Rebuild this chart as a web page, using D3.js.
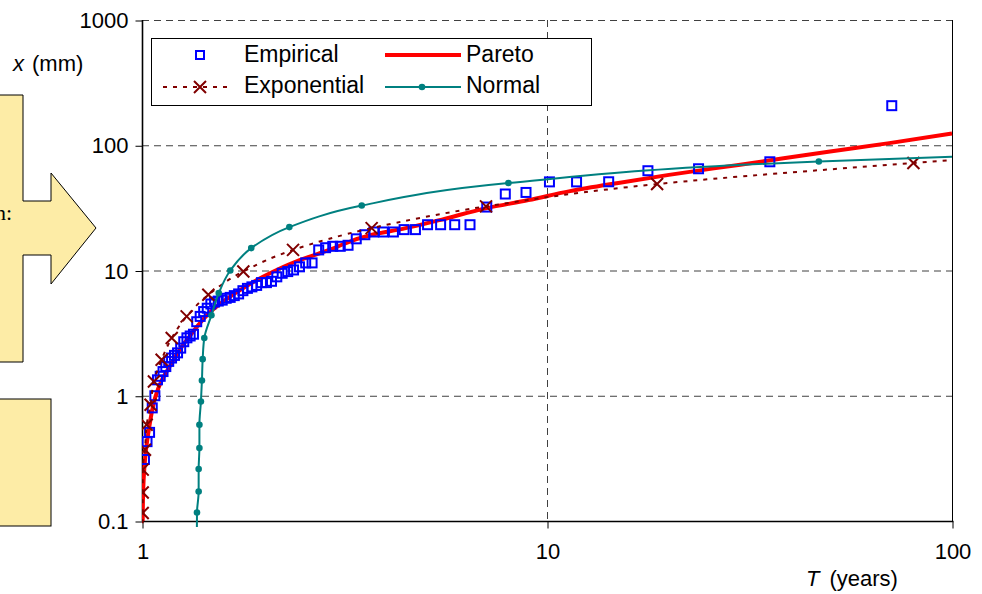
<!DOCTYPE html>
<html>
<head>
<meta charset="utf-8">
<script src="https://cdn.jsdelivr.net/npm/d3@7"></script>
<style>
  body { margin: 0; background: #fff; }
  svg { display: block; font-family: "Liberation Sans", Arial, sans-serif; }
</style>
</head>
<body>
<div class="chart"></div>
<script>
var chartOptions = {
  width: 982,
  height: 594,
  left: 142,
  right: 952,
  top: 20,
  bottom: 521
};

// tick labels
var xTicks = [1, 10, 100];
var yTicks = [0.1, 1, 10, 100, 1000];

// empirical: return period T (years) and depth x (mm), by rank
var empT = [71.0, 35.5, 23.67, 17.75, 14.2, 11.83, 10.14, 8.875, 7.889, 7.1,
  6.455, 5.917, 5.462, 5.071, 4.733, 4.438, 4.176, 3.944, 3.737, 3.55,
  3.381, 3.227, 3.087, 2.958, 2.84, 2.731, 2.63, 2.536, 2.448, 2.367,
  2.29, 2.219, 2.152, 2.088, 2.029, 1.972, 1.919, 1.868, 1.821, 1.775,
  1.732, 1.69, 1.651, 1.614, 1.578, 1.543, 1.511, 1.479, 1.449, 1.42,
  1.392, 1.365, 1.34, 1.315, 1.291, 1.268, 1.246, 1.224, 1.203, 1.183,
  1.164, 1.145, 1.127, 1.109, 1.092, 1.076, 1.06, 1.044, 1.029, 1.014];
var empX = [207, 73.8, 64.9, 62.6, 51.1, 51, 51, 42, 40.8, 32.1,
  23.2, 23.2, 23.2, 23.2, 21.2, 21.2, 20.3, 20.3, 20.3, 19.3,
  17.9, 15.9, 15.6, 15.6, 15.2, 14.6, 11.5, 11.5, 10.7, 10.1,
  9.8, 9.5, 8.9, 8.2, 8.0, 8.0, 7.6, 7.4, 7.2, 6.9,
  6.5, 6.3, 6.1, 6.0, 5.8, 5.7, 5.6, 5.4, 5.0, 4.7,
  4.3, 3.9, 3.1, 3.0, 2.9, 2.7, 2.4, 2.2, 2.1, 2.0,
  1.88, 1.71, 1.56, 1.43, 1.34, 1.0, 0.8, 0.51, 0.43, 0.31];

// pareto curve
var parT = [1.004, 1.007, 1.013, 1.023, 1.04, 1.06, 1.08, 1.12, 1.17, 1.24,
  1.31, 1.5, 1.7, 2.0, 2.4, 2.9, 3.7, 4.4, 5.5, 7.1,
  9.0, 11.4, 15, 20, 30, 50, 70, 100];
var parX = [0.1, 0.18, 0.26, 0.37, 0.54, 0.77, 0.99, 1.34, 1.71, 2.33,
  2.98, 4.9, 6.6, 9.0, 11.8, 14.6, 19.3, 21.5, 25.5, 31.5,
  36.5, 43, 50, 58, 70, 89, 104, 124];

// exponential (markers, plus one line point past each end)
var expT = [1.004, 1.004, 1.004, 1.017, 1.027, 1.05, 1.07, 1.118, 1.184,
  1.289, 1.458, 1.779, 2.36, 3.69, 7.07, 18.7, 80.3];
var expX = [0.116, 0.169, 0.257, 0.371, 0.587, 0.848, 1.30, 1.94, 2.89,
  4.30, 6.40, 9.83, 14.6, 21.8, 32.5, 49.0, 72.1];
var expEndT = [1.0038, 100];
var expEndX = [0.08, 76];

// normal (markers, plus one line point past each end)
var norT = [1.367, 1.380, 1.380, 1.386, 1.386, 1.398, 1.406, 1.412, 1.425,
  1.484, 1.547, 1.652, 1.861, 2.311, 3.488, 8.03, 46.9];
var norX = [0.117, 0.172, 0.26, 0.382, 0.587, 0.90, 1.325, 1.96, 2.89,
  4.39, 6.6, 10.0, 15.1, 22.2, 33.0, 49.9, 74.2];
var norEndT = [1.366, 100];
var norEndX = [0.08, 81];

var legendNames = ["Empirical", "Pareto", "Exponential", "Normal"];

var zip = function(ts, xs) {
  return ts.map(function(t, i) { return { t: t, x: xs[i] }; });
};

var svg = d3.select('.chart').append('svg')
  .attr('width', chartOptions.width)
  .attr('height', chartOptions.height);

var x = d3.scaleLog().domain([1, 100]).range([chartOptions.left, chartOptions.right]);
var y = d3.scaleLog().domain([0.1, 1000]).range([chartOptions.bottom, chartOptions.top]);

// shapes cut by the left edge
var yellow = '#fdeca6';
svg.append('polygon')
  .attr('points', [[-2, 95], [23, 95], [23, 201], [51, 201], [51, 173], [96, 228],
    [51, 284], [51, 255], [23, 255], [23, 362], [-2, 362]].join(' '))
  .attr('fill', yellow)
  .attr('stroke', '#000')
  .attr('stroke-width', 1);
svg.append('text')
  .attr('x', 12)
  .attr('y', 220)
  .attr('text-anchor', 'end')
  .style('font-family', '"Liberation Serif", serif')
  .style('font-size', '22px')
  .text('n:');
svg.append('rect')
  .attr('x', -2).attr('y', 399)
  .attr('width', 53).attr('height', 127)
  .attr('fill', yellow)
  .attr('stroke', '#000')
  .attr('stroke-width', 1);

// grid
var grid = svg.append('g')
  .attr('stroke', '#404040')
  .attr('stroke-width', 1)
  .attr('stroke-dasharray', '7,5');
grid.selectAll('line.h')
  .data([1, 10, 100, 1000])
  .enter().append('line')
  .attr('class', 'h')
  .attr('x1', chartOptions.left).attr('x2', chartOptions.right)
  .attr('y1', function(d) { return y(d) + 0.5; })
  .attr('y2', function(d) { return y(d) + 0.5; });
grid.append('line')
  .attr('x1', x(10) + 0.5).attr('x2', x(10) + 0.5)
  .attr('y1', chartOptions.top).attr('y2', chartOptions.bottom);

svg.append('line')
  .attr('x1', chartOptions.right + 0.5).attr('x2', chartOptions.right + 0.5)
  .attr('y1', chartOptions.top).attr('y2', chartOptions.bottom)
  .attr('stroke', '#000');

// axes
var fmt = function(d) { return d < 1 ? d.toFixed(1) : String(d); };

var yAxis = svg.append('g')
  .attr('transform', 'translate(' + (chartOptions.left + 0.5) + ',0.5)')
  .call(d3.axisLeft(y).tickValues(yTicks).tickFormat(fmt).tickSize(7).tickPadding(7));
var xAxis = svg.append('g')
  .attr('transform', 'translate(0.5,' + (chartOptions.bottom + 0.5) + ')')
  .call(d3.axisBottom(x).tickValues(xTicks).tickFormat(fmt).tickSize(7).tickPadding(15));

[yAxis, xAxis].forEach(function(a) {
  a.select('.domain').attr('stroke', '#000').attr('stroke-width', 1.6);
  a.selectAll('.tick line').attr('stroke', '#000');
  a.selectAll('.tick text')
    .attr('fill', '#000')
    .style('font-size', '22px')
    .style('font-family', '"Liberation Sans", Arial, sans-serif');
});
yAxis.select('.domain').attr('d', 'M0,' + (chartOptions.top - 0.5) + 'V' + chartOptions.bottom);
xAxis.select('.domain').attr('d', 'M' + chartOptions.left + ',0H' + (chartOptions.right + 1));

// axis titles
var yTitle = svg.append('text')
  .attr('x', 13).attr('y', 71)
  .style('font-size', '22px');
yTitle.append('tspan').style('font-style', 'italic').text('x');
yTitle.append('tspan').attr('dx', 8).text('(mm)');

var xTitle = svg.append('text')
  .attr('x', 806).attr('y', 586)
  .style('font-size', '22px');
xTitle.append('tspan').style('font-style', 'italic').text('T');
xTitle.append('tspan').attr('dx', 10).text('(years)');

// data
svg.append('clipPath').attr('id', 'plot')
  .append('rect')
  .attr('x', chartOptions.left).attr('y', chartOptions.top)
  .attr('width', chartOptions.right - chartOptions.left + 40)
  .attr('height', chartOptions.bottom - chartOptions.top + 6);

var plot = svg.append('g').attr('clip-path', 'url(#plot)');

var line = d3.line()
  .x(function(d) { return x(d.t); })
  .y(function(d) { return y(d.x); })
  .curve(d3.curveMonotoneY);

// pareto
plot.append('path')
  .datum(zip(parT, parX))
  .attr('d', line)
  .attr('fill', 'none')
  .attr('stroke', '#ff0000')
  .attr('stroke-width', 4)
  .attr('stroke-linejoin', 'round');

// empirical
plot.selectAll('rect.emp')
  .data(zip(empT, empX))
  .enter().append('rect')
  .attr('class', 'emp')
  .attr('x', function(d) { return x(d.t) - 4.5; })
  .attr('y', function(d) { return y(d.x) - 4.5; })
  .attr('width', 9)
  .attr('height', 9)
  .attr('fill', 'none')
  .attr('stroke', '#0000ff')
  .attr('stroke-width', 2);

// exponential
var expLine = [{ t: expEndT[0], x: expEndX[0] }].concat(zip(expT, expX))
  .concat([{ t: expEndT[1], x: expEndX[1] }]);
plot.append('path')
  .datum(expLine)
  .attr('d', line)
  .attr('fill', 'none')
  .attr('stroke', '#800000')
  .attr('stroke-width', 2)
  .attr('stroke-dasharray', '4,6');

var cross = function(sel, cx, cy) {
  sel.append('path')
    .attr('d', 'M' + (cx - 6) + ',' + (cy - 6) + 'L' + (cx + 6) + ',' + (cy + 6) +
      'M' + (cx - 6) + ',' + (cy + 6) + 'L' + (cx + 6) + ',' + (cy - 6))
    .attr('stroke', '#800000')
    .attr('stroke-width', 2)
    .attr('fill', 'none');
};
zip(expT, expX).forEach(function(d) { cross(plot, x(d.t), y(d.x)); });

// normal
var norLine = [{ t: norEndT[0], x: norEndX[0] }].concat(zip(norT, norX))
  .concat([{ t: norEndT[1], x: norEndX[1] }]);
plot.append('path')
  .datum(norLine)
  .attr('d', line)
  .attr('fill', 'none')
  .attr('stroke', '#008080')
  .attr('stroke-width', 2);

plot.selectAll('circle.nor')
  .data(zip(norT, norX))
  .enter().append('circle')
  .attr('class', 'nor')
  .attr('cx', function(d) { return x(d.t); })
  .attr('cy', function(d) { return y(d.x); })
  .attr('r', 3.3)
  .attr('fill', '#008080');

// legend
var legend = svg.append('g');
legend.append('rect')
  .attr('x', 151.5).attr('y', 38.5)
  .attr('width', 440).attr('height', 67)
  .attr('fill', '#fff')
  .attr('stroke', '#000')
  .attr('stroke-width', 1);

legend.append('rect')
  .attr('x', 196).attr('y', 51)
  .attr('width', 8).attr('height', 8)
  .attr('fill', 'none')
  .attr('stroke', '#0000ff')
  .attr('stroke-width', 2);
legend.append('line')
  .attr('x1', 163).attr('x2', 233).attr('y1', 87).attr('y2', 87)
  .attr('stroke', '#800000').attr('stroke-width', 2)
  .attr('stroke-dasharray', '4,6');
cross(legend, 200, 87);
legend.append('line')
  .attr('x1', 385).attr('x2', 461).attr('y1', 55).attr('y2', 55)
  .attr('stroke', '#ff0000').attr('stroke-width', 4);
legend.append('line')
  .attr('x1', 385).attr('x2', 461).attr('y1', 87).attr('y2', 87)
  .attr('stroke', '#008080').attr('stroke-width', 2);
legend.append('circle')
  .attr('cx', 422).attr('cy', 87).attr('r', 3.3)
  .attr('fill', '#008080');

legend.selectAll('text')
  .data(legendNames)
  .enter().append('text')
  .attr('x', function(d, i) { return i % 2 === 0 ? 244 : 466; })
  .attr('y', function(d, i) { return i < 2 ? 62 : 93; })
  .style('font-size', '23px')
  .text(function(d) { return d; });
</script>
</body>
</html>
